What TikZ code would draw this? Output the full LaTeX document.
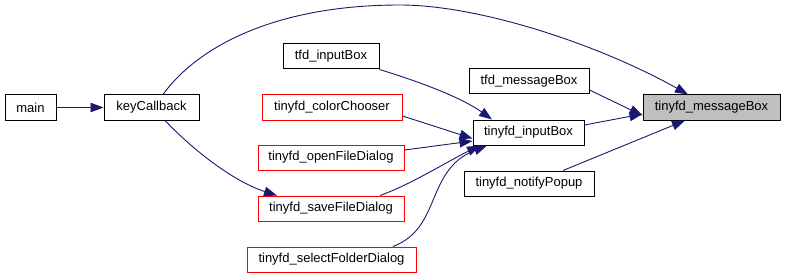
\documentclass[tikz,border=0pt]{standalone}
\usepackage{fontspec}
\setmainfont{Liberation Sans}
\usetikzlibrary{arrows.meta}
\definecolor{edgeblue}{HTML}{191970}
\definecolor{nodegray}{HTML}{BFBFBF}
\begin{document}
\begin{tikzpicture}[x=1pt,y=-1pt,
  fn/.style={draw=black, line width=1pt, fill=white, rectangle,
    minimum height=25pt, inner sep=0pt, font=\fontsize{13}{15}\selectfont},
  undoc/.style={fn, draw=red},
  focus/.style={fn, fill=nodegray},
  call/.style={draw=edgeblue, line width=0.9pt,
    -{Triangle[length=13pt,width=9.5pt,fill=edgeblue]}},
]
\useasboundingbox (0,0) rectangle (785,278);

% call-graph nodes
\node[fn,    minimum width=51pt]  (main)        at (30.5,107.5) {main};
\node[fn,    minimum width=95pt]  (keyCallback) at (151.5,107.5) {keyCallback};
\node[fn,    minimum width=96pt]  (tfdInput)    at (331,56.5)   {tfd\_inputBox};
\node[undoc, minimum width=140pt] (color)       at (332,107.5)  {tinyfd\_colorChooser};
\node[undoc, minimum width=146pt] (openFile)    at (331,157.5)  {tinyfd\_openFileDialog};
\node[undoc, minimum width=146pt] (saveFile)    at (331,208.5)  {tinyfd\_saveFileDialog};
\node[undoc, minimum width=169pt] (folder)      at (331.5,259.5) {tinyfd\_selectFolderDialog};
\node[fn,    minimum width=120pt] (tfdMessage)  at (529,81.5)   {tfd\_messageBox};
\node[fn,    minimum width=111pt] (input)       at (528.5,132.5) {tinyfd\_inputBox};
\node[fn,    minimum width=130pt] (notify)      at (529,183.5)  {tinyfd\_notifyPopup};
\node[focus, minimum width=137pt] (message)     at (711.5,107.5) {tinyfd\_messageBox};

% calls
\draw[call] (main.east) -- (keyCallback.west);
\draw[call] ([xshift=11.5pt]keyCallback.north)
  .. controls (195,50) and (270,5) .. (400,5)
  .. controls (480,5) and (600,45) .. ([xshift=-23.5pt]message.north);
\draw[call] ([xshift=13.5pt]keyCallback.south)
  .. controls (195,152) and (235,182) .. ([xshift=-54pt]saveFile.north);
\draw[call] (tfdInput.south east)
  .. controls (430,85) and (465,100) .. ([xshift=-36.5pt]input.north);
\draw[call] ([yshift=-8.5pt]color.east) -- ([yshift=-6pt]input.west);
\draw[call] ([yshift=7.5pt]openFile.east) -- ([yshift=-8.5pt]input.west);
\draw[call] ([xshift=49pt]saveFile.north)
  .. controls (410,185) and (450,160) .. ([xshift=-48.5pt]input.south);
\draw[call] ([xshift=61.5pt]folder.north)
  .. controls (442,228) and (425,170) .. ([xshift=-41.5pt]input.south);
\draw[call] ([yshift=-8.5pt]tfdMessage.east) -- ([yshift=-8pt]message.west);
\draw[call] ([yshift=7.5pt]input.east) -- ([yshift=-6.5pt]message.west);
\draw[call] ([xshift=34pt]notify.north) -- ([xshift=-26.5pt]message.south);
\end{tikzpicture}
\end{document}
